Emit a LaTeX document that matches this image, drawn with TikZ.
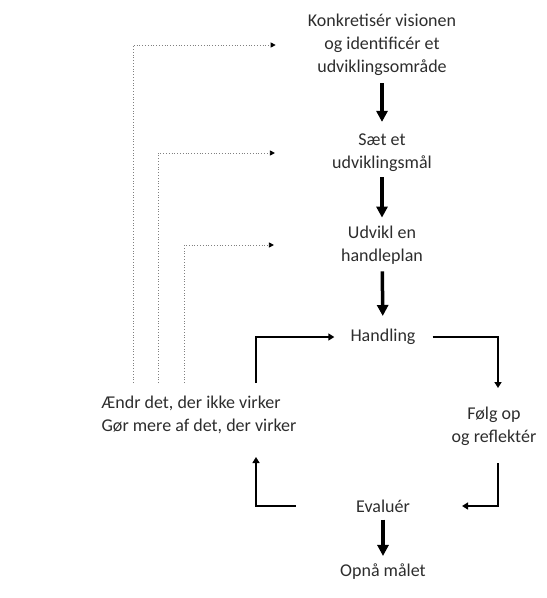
\documentclass[tikz,border=0pt]{standalone}
\usepackage{fontspec}
\setmainfont{Carlito}
\usetikzlibrary{arrows.meta}
\definecolor{txtcol}{RGB}{45,45,45}
\begin{document}
\begin{tikzpicture}[x=1pt,y=-1pt,
  txt/.style={inner sep=0pt,align=center,text=txtcol,font=\fontsize{18}{23}\selectfont},
  thk/.style={line width=3.5pt,-{Triangle[length=11pt,width=11pt]}},
  thn/.style={line width=1.5pt,-{Triangle[length=6pt,width=7pt]}},
  dotl/.style={line width=0.8pt,gray,dotted,-{Triangle[length=5pt,width=5pt,black]}}]
\useasboundingbox (0,0) rectangle (547,598);
\node[txt] (k) at (382,45) {Konkretisér visionen\\og identificér et\\udviklingsområde};
\node[txt] (s) at (382,153) {Sæt et\\udviklingsmål};
\node[txt] (u) at (382,245) {Udvikl en\\handleplan};
\node[txt] (h) at (383,337) {Handling};
\node[txt] (f) at (494,426) {Følg op\\og reflektér};
\node[txt] (e) at (383,506) {Evaluér};
\node[txt] (o) at (383,572) {Opnå målet};
\node[txt,align=left] (a) at (199,415) {Ændr det, der ikke virker\\Gør mere af det, der virker};
% thick main arrows
\draw[thk,shorten <=7pt,shorten >=12pt] (k) -- (s);
\draw[thk,shorten <=5pt,shorten >=8pt] (s) -- (u);
\draw[thk,shorten <=7pt,shorten >=13pt] (u) -- (h);
\draw[thk,shorten <=7pt,shorten >=8pt] (e) -- (o);
% loop
\coordinate (c1) at (256,383);
\coordinate (c2) at (256,457);
\coordinate (c3) at (498,388);
\coordinate (c4) at (498,463);
\draw[thn,shorten >=16pt] (c1) |- (h.west);
\draw[thn,shorten <=17pt] (h.east) -| (c3);
\draw[thn,shorten >=52pt] (c4) |- (e.east);
\draw[thn,shorten <=60pt] (e.west) -| (c2);
% dotted feedback
\coordinate (d1) at (133,383);
\coordinate (d2) at (158,383);
\coordinate (d3) at (184,383);
\draw[dotl,shorten >=32pt] (d1) |- (k.west);
\draw[dotl,shorten >=57pt] (d2) |- (s.west);
\draw[dotl,shorten >=67pt] (d3) |- (u.west);
\end{tikzpicture}
\end{document}
